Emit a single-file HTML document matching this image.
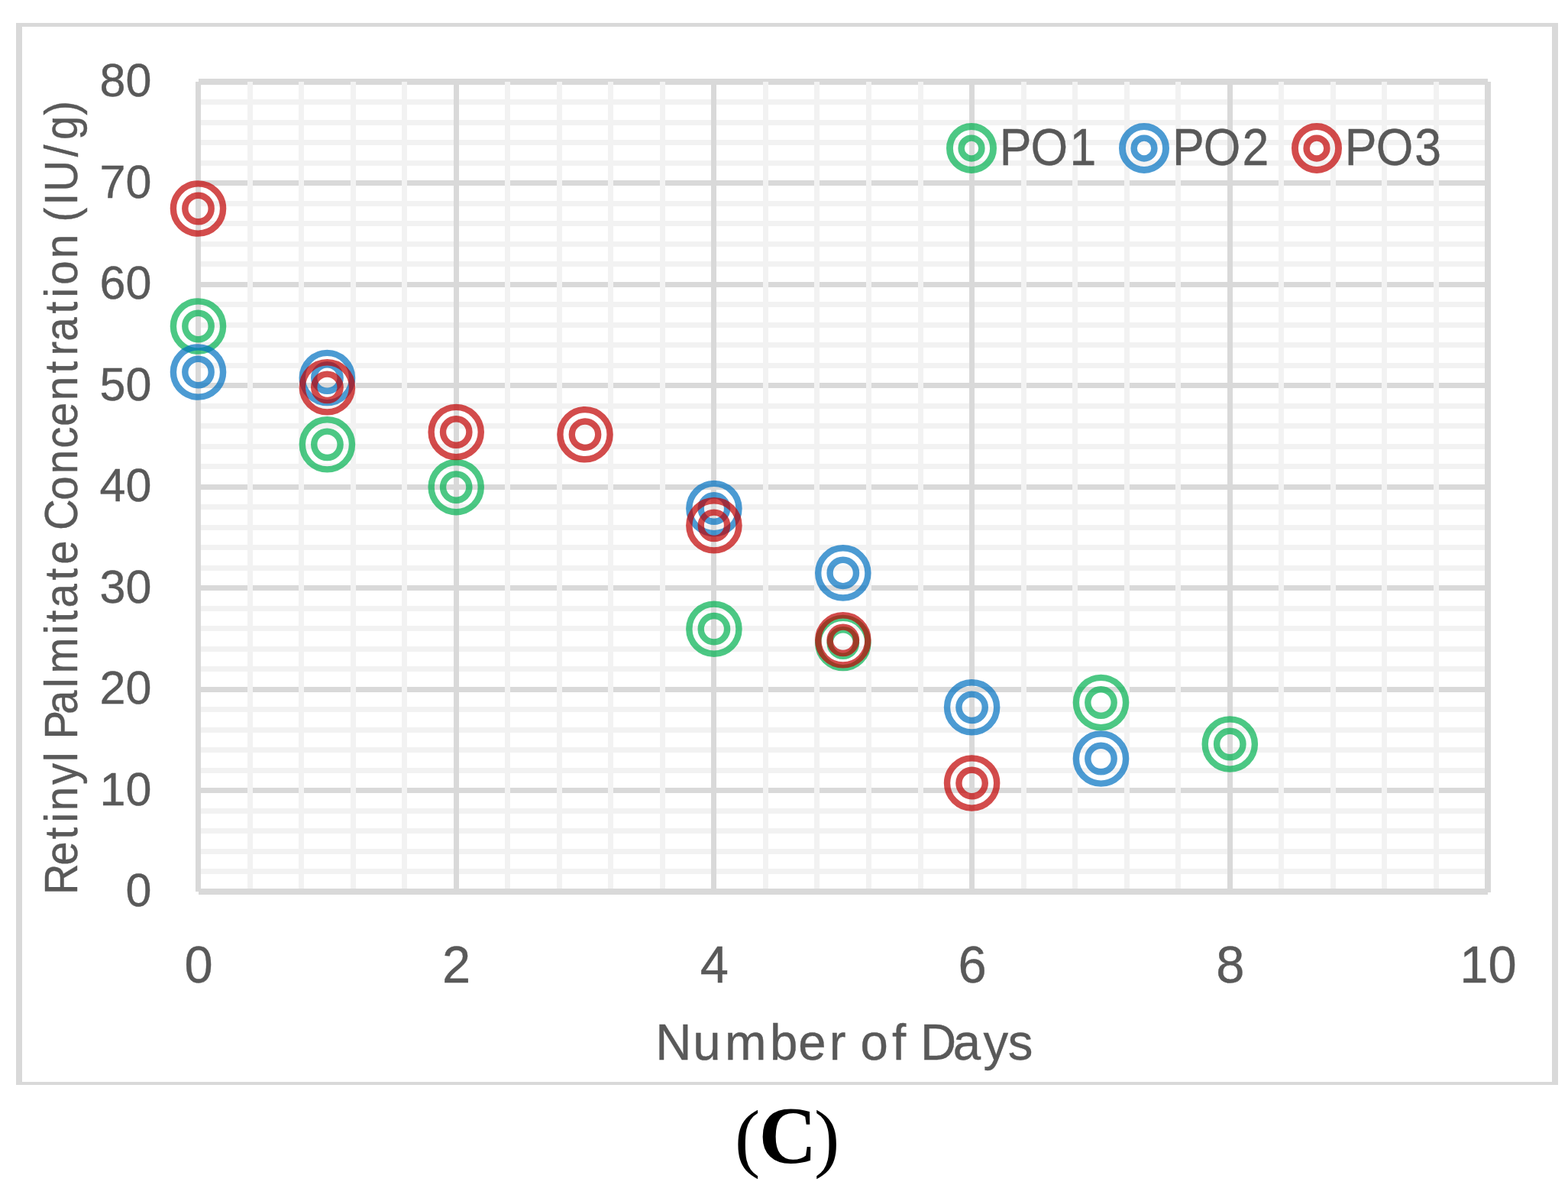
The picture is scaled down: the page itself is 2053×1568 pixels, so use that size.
<!DOCTYPE html><html><head><meta charset="utf-8"><title>Retinyl Palmitate Concentration</title>
<style>html,body{margin:0;padding:0;background:#fff;}svg{display:block;}text{font-family:"Liberation Sans",Arial,sans-serif;fill:#595959;stroke:#595959;stroke-width:0.4px;}.cap{font-family:"Liberation Serif","Times New Roman",serif;font-weight:bold;fill:#000;stroke:none;}</style></head><body>
<svg width="2053" height="1568" viewBox="0 0 2053 1568">
<rect x="0" y="0" width="2053" height="1568" fill="#fff"/>
<g shape-rendering="crispEdges">
<rect x="21" y="30" width="2019" height="5" fill="#d9d9d9"/>
<rect x="21" y="1416" width="2019" height="4" fill="#d9d9d9"/>
<rect x="21" y="30" width="8" height="1390" fill="#d9d9d9"/>
<rect x="2032" y="30" width="8" height="1390" fill="#d9d9d9"/>
<line x1="259.5" y1="1140.5" x2="1948.0" y2="1140.5" stroke="#f2f2f2" stroke-width="7"/>
<line x1="259.5" y1="1114.0" x2="1948.0" y2="1114.0" stroke="#f2f2f2" stroke-width="7"/>
<line x1="259.5" y1="1087.5" x2="1948.0" y2="1087.5" stroke="#f2f2f2" stroke-width="7"/>
<line x1="259.5" y1="1061.0" x2="1948.0" y2="1061.0" stroke="#f2f2f2" stroke-width="7"/>
<line x1="259.5" y1="1034.5" x2="1948.0" y2="1034.5" stroke="#d9d9d9" stroke-width="7"/>
<line x1="259.5" y1="1008.0" x2="1948.0" y2="1008.0" stroke="#f2f2f2" stroke-width="7"/>
<line x1="259.5" y1="981.5" x2="1948.0" y2="981.5" stroke="#f2f2f2" stroke-width="7"/>
<line x1="259.5" y1="955.0" x2="1948.0" y2="955.0" stroke="#f2f2f2" stroke-width="7"/>
<line x1="259.5" y1="928.5" x2="1948.0" y2="928.5" stroke="#f2f2f2" stroke-width="7"/>
<line x1="259.5" y1="902.0" x2="1948.0" y2="902.0" stroke="#d9d9d9" stroke-width="7"/>
<line x1="259.5" y1="875.5" x2="1948.0" y2="875.5" stroke="#f2f2f2" stroke-width="7"/>
<line x1="259.5" y1="849.0" x2="1948.0" y2="849.0" stroke="#f2f2f2" stroke-width="7"/>
<line x1="259.5" y1="822.5" x2="1948.0" y2="822.5" stroke="#f2f2f2" stroke-width="7"/>
<line x1="259.5" y1="796.0" x2="1948.0" y2="796.0" stroke="#f2f2f2" stroke-width="7"/>
<line x1="259.5" y1="769.5" x2="1948.0" y2="769.5" stroke="#d9d9d9" stroke-width="7"/>
<line x1="259.5" y1="743.0" x2="1948.0" y2="743.0" stroke="#f2f2f2" stroke-width="7"/>
<line x1="259.5" y1="716.5" x2="1948.0" y2="716.5" stroke="#f2f2f2" stroke-width="7"/>
<line x1="259.5" y1="690.0" x2="1948.0" y2="690.0" stroke="#f2f2f2" stroke-width="7"/>
<line x1="259.5" y1="663.5" x2="1948.0" y2="663.5" stroke="#f2f2f2" stroke-width="7"/>
<line x1="259.5" y1="637.0" x2="1948.0" y2="637.0" stroke="#d9d9d9" stroke-width="7"/>
<line x1="259.5" y1="610.5" x2="1948.0" y2="610.5" stroke="#f2f2f2" stroke-width="7"/>
<line x1="259.5" y1="584.0" x2="1948.0" y2="584.0" stroke="#f2f2f2" stroke-width="7"/>
<line x1="259.5" y1="557.5" x2="1948.0" y2="557.5" stroke="#f2f2f2" stroke-width="7"/>
<line x1="259.5" y1="531.0" x2="1948.0" y2="531.0" stroke="#f2f2f2" stroke-width="7"/>
<line x1="259.5" y1="504.5" x2="1948.0" y2="504.5" stroke="#d9d9d9" stroke-width="7"/>
<line x1="259.5" y1="478.0" x2="1948.0" y2="478.0" stroke="#f2f2f2" stroke-width="7"/>
<line x1="259.5" y1="451.5" x2="1948.0" y2="451.5" stroke="#f2f2f2" stroke-width="7"/>
<line x1="259.5" y1="425.0" x2="1948.0" y2="425.0" stroke="#f2f2f2" stroke-width="7"/>
<line x1="259.5" y1="398.5" x2="1948.0" y2="398.5" stroke="#f2f2f2" stroke-width="7"/>
<line x1="259.5" y1="372.0" x2="1948.0" y2="372.0" stroke="#d9d9d9" stroke-width="7"/>
<line x1="259.5" y1="345.5" x2="1948.0" y2="345.5" stroke="#f2f2f2" stroke-width="7"/>
<line x1="259.5" y1="319.0" x2="1948.0" y2="319.0" stroke="#f2f2f2" stroke-width="7"/>
<line x1="259.5" y1="292.5" x2="1948.0" y2="292.5" stroke="#f2f2f2" stroke-width="7"/>
<line x1="259.5" y1="266.0" x2="1948.0" y2="266.0" stroke="#f2f2f2" stroke-width="7"/>
<line x1="259.5" y1="239.5" x2="1948.0" y2="239.5" stroke="#d9d9d9" stroke-width="7"/>
<line x1="259.5" y1="213.0" x2="1948.0" y2="213.0" stroke="#f2f2f2" stroke-width="7"/>
<line x1="259.5" y1="186.5" x2="1948.0" y2="186.5" stroke="#f2f2f2" stroke-width="7"/>
<line x1="259.5" y1="160.0" x2="1948.0" y2="160.0" stroke="#f2f2f2" stroke-width="7"/>
<line x1="259.5" y1="133.5" x2="1948.0" y2="133.5" stroke="#f2f2f2" stroke-width="7"/>
<line x1="259.5" y1="107.0" x2="1948.0" y2="107.0" stroke="#d9d9d9" stroke-width="8"/>
<line x1="327.04" y1="107.0" x2="327.04" y2="1167.0" stroke="#f2f2f2" stroke-width="7"/>
<line x1="394.58" y1="107.0" x2="394.58" y2="1167.0" stroke="#f2f2f2" stroke-width="7"/>
<line x1="462.12" y1="107.0" x2="462.12" y2="1167.0" stroke="#f2f2f2" stroke-width="7"/>
<line x1="529.66" y1="107.0" x2="529.66" y2="1167.0" stroke="#f2f2f2" stroke-width="7"/>
<line x1="664.74" y1="107.0" x2="664.74" y2="1167.0" stroke="#f2f2f2" stroke-width="7"/>
<line x1="732.28" y1="107.0" x2="732.28" y2="1167.0" stroke="#f2f2f2" stroke-width="7"/>
<line x1="799.82" y1="107.0" x2="799.82" y2="1167.0" stroke="#f2f2f2" stroke-width="7"/>
<line x1="867.36" y1="107.0" x2="867.36" y2="1167.0" stroke="#f2f2f2" stroke-width="7"/>
<line x1="1002.44" y1="107.0" x2="1002.44" y2="1167.0" stroke="#f2f2f2" stroke-width="7"/>
<line x1="1069.98" y1="107.0" x2="1069.98" y2="1167.0" stroke="#f2f2f2" stroke-width="7"/>
<line x1="1137.52" y1="107.0" x2="1137.52" y2="1167.0" stroke="#f2f2f2" stroke-width="7"/>
<line x1="1205.06" y1="107.0" x2="1205.06" y2="1167.0" stroke="#f2f2f2" stroke-width="7"/>
<line x1="1340.14" y1="107.0" x2="1340.14" y2="1167.0" stroke="#f2f2f2" stroke-width="7"/>
<line x1="1407.68" y1="107.0" x2="1407.68" y2="1167.0" stroke="#f2f2f2" stroke-width="7"/>
<line x1="1475.22" y1="107.0" x2="1475.22" y2="1167.0" stroke="#f2f2f2" stroke-width="7"/>
<line x1="1542.76" y1="107.0" x2="1542.76" y2="1167.0" stroke="#f2f2f2" stroke-width="7"/>
<line x1="1677.84" y1="107.0" x2="1677.84" y2="1167.0" stroke="#f2f2f2" stroke-width="7"/>
<line x1="1745.38" y1="107.0" x2="1745.38" y2="1167.0" stroke="#f2f2f2" stroke-width="7"/>
<line x1="1812.92" y1="107.0" x2="1812.92" y2="1167.0" stroke="#f2f2f2" stroke-width="7"/>
<line x1="1880.46" y1="107.0" x2="1880.46" y2="1167.0" stroke="#f2f2f2" stroke-width="7"/>
<line x1="597.20" y1="107.0" x2="597.20" y2="1167.8" stroke="#d9d9d9" stroke-width="7"/>
<line x1="934.90" y1="107.0" x2="934.90" y2="1167.8" stroke="#d9d9d9" stroke-width="7"/>
<line x1="1272.60" y1="107.0" x2="1272.60" y2="1167.8" stroke="#d9d9d9" stroke-width="7"/>
<line x1="1610.30" y1="107.0" x2="1610.30" y2="1167.8" stroke="#d9d9d9" stroke-width="7"/>
<line x1="1948.00" y1="107.0" x2="1948.00" y2="1167.8" stroke="#d9d9d9" stroke-width="8"/>
<line x1="259.5" y1="107.0" x2="259.5" y2="1167.0" stroke="#d9d9d9" stroke-width="7"/>
<line x1="259.5" y1="1167.0" x2="1948.0" y2="1167.0" stroke="#d9d9d9" stroke-width="8"/>
</g>
<circle cx="259.5" cy="427.0" r="32.6" fill="none" stroke="rgba(0,176,80,0.7)" stroke-width="8.4"/><circle cx="259.5" cy="427.0" r="17.2" fill="none" stroke="rgba(0,176,80,0.7)" stroke-width="8.4"/>
<circle cx="428.4" cy="581.8" r="32.6" fill="none" stroke="rgba(0,176,80,0.7)" stroke-width="8.4"/><circle cx="428.4" cy="581.8" r="17.2" fill="none" stroke="rgba(0,176,80,0.7)" stroke-width="8.4"/>
<circle cx="597.2" cy="637.6" r="32.6" fill="none" stroke="rgba(0,176,80,0.7)" stroke-width="8.4"/><circle cx="597.2" cy="637.6" r="17.2" fill="none" stroke="rgba(0,176,80,0.7)" stroke-width="8.4"/>
<circle cx="934.9" cy="823.2" r="32.6" fill="none" stroke="rgba(0,176,80,0.7)" stroke-width="8.4"/><circle cx="934.9" cy="823.2" r="17.2" fill="none" stroke="rgba(0,176,80,0.7)" stroke-width="8.4"/>
<circle cx="1103.8" cy="841.5" r="32.6" fill="none" stroke="rgba(0,176,80,0.7)" stroke-width="8.4"/><circle cx="1103.8" cy="841.5" r="17.2" fill="none" stroke="rgba(0,176,80,0.7)" stroke-width="8.4"/>
<circle cx="1441.5" cy="919.5" r="32.6" fill="none" stroke="rgba(0,176,80,0.7)" stroke-width="8.4"/><circle cx="1441.5" cy="919.5" r="17.2" fill="none" stroke="rgba(0,176,80,0.7)" stroke-width="8.4"/>
<circle cx="1610.3" cy="974.0" r="32.6" fill="none" stroke="rgba(0,176,80,0.7)" stroke-width="8.4"/><circle cx="1610.3" cy="974.0" r="17.2" fill="none" stroke="rgba(0,176,80,0.7)" stroke-width="8.4"/>
<circle cx="259.5" cy="487.0" r="32.6" fill="none" stroke="rgba(0,112,192,0.7)" stroke-width="8.4"/><circle cx="259.5" cy="487.0" r="17.2" fill="none" stroke="rgba(0,112,192,0.7)" stroke-width="8.4"/>
<circle cx="428.4" cy="494.5" r="32.6" fill="none" stroke="rgba(0,112,192,0.7)" stroke-width="8.4"/><circle cx="428.4" cy="494.5" r="17.2" fill="none" stroke="rgba(0,112,192,0.7)" stroke-width="8.4"/>
<circle cx="934.9" cy="665.5" r="32.6" fill="none" stroke="rgba(0,112,192,0.7)" stroke-width="8.4"/><circle cx="934.9" cy="665.5" r="17.2" fill="none" stroke="rgba(0,112,192,0.7)" stroke-width="8.4"/>
<circle cx="1103.8" cy="749.9" r="32.6" fill="none" stroke="rgba(0,112,192,0.7)" stroke-width="8.4"/><circle cx="1103.8" cy="749.9" r="17.2" fill="none" stroke="rgba(0,112,192,0.7)" stroke-width="8.4"/>
<circle cx="1272.6" cy="925.8" r="32.6" fill="none" stroke="rgba(0,112,192,0.7)" stroke-width="8.4"/><circle cx="1272.6" cy="925.8" r="17.2" fill="none" stroke="rgba(0,112,192,0.7)" stroke-width="8.4"/>
<circle cx="1441.5" cy="993.0" r="32.6" fill="none" stroke="rgba(0,112,192,0.7)" stroke-width="8.4"/><circle cx="1441.5" cy="993.0" r="17.2" fill="none" stroke="rgba(0,112,192,0.7)" stroke-width="8.4"/>
<circle cx="259.5" cy="273.0" r="32.6" fill="none" stroke="rgba(192,0,0,0.7)" stroke-width="8.4"/><circle cx="259.5" cy="273.0" r="17.2" fill="none" stroke="rgba(192,0,0,0.7)" stroke-width="8.4"/>
<circle cx="428.4" cy="506.8" r="32.6" fill="none" stroke="rgba(192,0,0,0.7)" stroke-width="8.4"/><circle cx="428.4" cy="506.8" r="17.2" fill="none" stroke="rgba(192,0,0,0.7)" stroke-width="8.4"/>
<circle cx="597.2" cy="565.5" r="32.6" fill="none" stroke="rgba(192,0,0,0.7)" stroke-width="8.4"/><circle cx="597.2" cy="565.5" r="17.2" fill="none" stroke="rgba(192,0,0,0.7)" stroke-width="8.4"/>
<circle cx="766.0" cy="568.7" r="32.6" fill="none" stroke="rgba(192,0,0,0.7)" stroke-width="8.4"/><circle cx="766.0" cy="568.7" r="17.2" fill="none" stroke="rgba(192,0,0,0.7)" stroke-width="8.4"/>
<circle cx="934.9" cy="687.8" r="32.6" fill="none" stroke="rgba(192,0,0,0.7)" stroke-width="8.4"/><circle cx="934.9" cy="687.8" r="17.2" fill="none" stroke="rgba(192,0,0,0.7)" stroke-width="8.4"/>
<circle cx="1103.8" cy="837.8" r="32.6" fill="none" stroke="rgba(192,0,0,0.7)" stroke-width="8.4"/><circle cx="1103.8" cy="837.8" r="17.2" fill="none" stroke="rgba(192,0,0,0.7)" stroke-width="8.4"/>
<circle cx="1272.6" cy="1025.0" r="32.6" fill="none" stroke="rgba(192,0,0,0.7)" stroke-width="8.4"/><circle cx="1272.6" cy="1025.0" r="17.2" fill="none" stroke="rgba(192,0,0,0.7)" stroke-width="8.4"/>
<circle cx="1272.0" cy="194.0" r="28.55" fill="none" stroke="rgba(0,176,80,0.7)" stroke-width="8.9"/><circle cx="1272.0" cy="194.0" r="13.4" fill="none" stroke="rgba(0,176,80,0.7)" stroke-width="8.45"/>
<text transform="translate(0,216) scale(0.919,1)" font-size="68.1" x="1424.17 1468.44 1523.98">PO1</text>
<circle cx="1498.0" cy="194.0" r="28.55" fill="none" stroke="rgba(0,112,192,0.7)" stroke-width="8.9"/><circle cx="1498.0" cy="194.0" r="13.4" fill="none" stroke="rgba(0,112,192,0.7)" stroke-width="8.45"/>
<text transform="translate(0,216) scale(0.919,1)" font-size="68.1" x="1670.19 1714.52 1769.89">PO2</text>
<circle cx="1724.0" cy="194.0" r="28.55" fill="none" stroke="rgba(192,0,0,0.7)" stroke-width="8.9"/><circle cx="1724.0" cy="194.0" r="13.4" fill="none" stroke="rgba(192,0,0,0.7)" stroke-width="8.45"/>
<text transform="translate(0,216) scale(0.919,1)" font-size="68.1" x="1915.90 1960.44 2015.44">PO3</text>
<text transform="translate(198.5,1186.4) scale(0.985,1)" font-size="62" text-anchor="end">0</text>
<text transform="translate(198.5,1053.9) scale(0.985,1)" font-size="62" text-anchor="end">10</text>
<text transform="translate(198.5,921.4) scale(0.985,1)" font-size="62" text-anchor="end">20</text>
<text transform="translate(198.5,788.9) scale(0.985,1)" font-size="62" text-anchor="end">30</text>
<text transform="translate(198.5,656.4) scale(0.985,1)" font-size="62" text-anchor="end">40</text>
<text transform="translate(198.5,523.9) scale(0.985,1)" font-size="62" text-anchor="end">50</text>
<text transform="translate(198.5,391.4) scale(0.985,1)" font-size="62" text-anchor="end">60</text>
<text transform="translate(198.5,258.9) scale(0.985,1)" font-size="62" text-anchor="end">70</text>
<text transform="translate(198.5,126.4) scale(0.985,1)" font-size="62" text-anchor="end">80</text>
<text transform="translate(260.0,1286.3) scale(0.97,1)" font-size="69" text-anchor="middle">0</text>
<text transform="translate(597.7,1286.3) scale(0.97,1)" font-size="69" text-anchor="middle">2</text>
<text transform="translate(935.4,1286.3) scale(0.97,1)" font-size="69" text-anchor="middle">4</text>
<text transform="translate(1273.1,1286.3) scale(0.97,1)" font-size="69" text-anchor="middle">6</text>
<text transform="translate(1610.8,1286.3) scale(0.97,1)" font-size="69" text-anchor="middle">8</text>
<text transform="translate(1948.5,1286.3) scale(0.97,1)" font-size="69" text-anchor="middle">10</text>
<text transform="translate(0,1386.7) scale(0.97,1)" font-size="67.4" x="884.81 935.25 978.34 1039.11 1077.65 1119.28 1141.73 1161.31 1204.14 1222.88 1242.15 1286.43 1327.27 1360.50">Number of Days</text>
<text transform="translate(101,1200) rotate(-90) scale(0.93,1)" font-size="60.7" x="31.16 72.23 109.05 132.73 149.08 185.95 218.34 231.83 249.97 285.07 322.64 342.36 397.73 414.48 435.07 473.56 495.94 529.71 544.13 586.16 623.43 659.36 690.40 726.50 765.02 789.83 809.85 848.99 871.44 889.49 926.71 960.48 977.93 1001.72 1020.67 1069.62 1093.54 1128.22">Retinyl Palmitate Concentration (IU/g)</text>
<text class="cap" style="font-weight:normal" x="962 993.55 1066" y="1522" font-size="100">(<tspan style="font-weight:bold" font-size="105">C</tspan>)</text>
</svg></body></html>
